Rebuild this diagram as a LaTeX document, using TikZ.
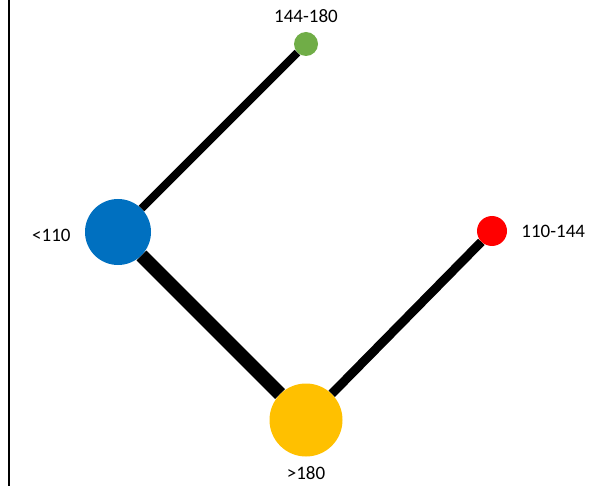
\documentclass[tikz,border=0pt]{standalone}
\usepackage{fontspec}
\setmainfont{Carlito}
\usetikzlibrary{positioning,backgrounds}
\definecolor{cblue}{HTML}{0070C0}
\definecolor{cgreen}{HTML}{70AD47}
\definecolor{cred}{HTML}{FF0000}
\definecolor{cyellow}{HTML}{FFC000}
\tikzset{
  dot/.style={circle, inner sep=0pt, draw=none},
  lbl/.style={inner sep=0pt, font=\fontsize{19}{21}\selectfont, text=black},
  edge/.style={draw=black, line cap=butt}
}
\begin{document}
\begin{tikzpicture}[x=1pt, y=-1pt]
  \useasboundingbox (0,0) rectangle (607,486);
  \draw[line width=2pt] (9,0) -- (9,486);
  \node[dot, fill=cgreen, minimum size=24pt] (g) at (306,44) {};
  \node[dot, fill=cblue, minimum size=66pt] (b) at (118,232) {};
  \node[dot, fill=cred, minimum size=30pt] (r) at (492,231) {};
  \node[dot, fill=cyellow, minimum size=73pt] (y) at (306,420) {};
  \node[lbl, above=9pt of g] {144-180};
  \node[lbl, left=14pt of b, yshift=-3pt] {<110};
  \node[lbl, right=14pt of r] {110-144};
  \node[lbl, below=10pt of y] {>180};
  \begin{scope}[on background layer]
    \draw[edge, line width=8pt] (g) -- (b);
    \draw[edge, line width=14pt] (b) -- (y);
    \draw[edge, line width=9pt] (y) -- (r);
  \end{scope}
\end{tikzpicture}
\end{document}
